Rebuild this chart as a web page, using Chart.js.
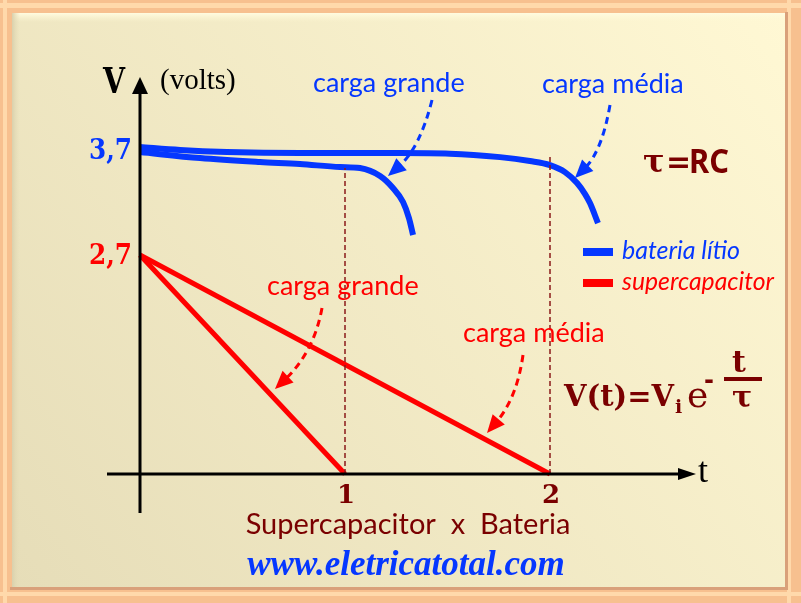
<!DOCTYPE html>
<html>
<head>
<meta charset="utf-8">
<script src="https://cdn.jsdelivr.net/npm/chart.js@4/dist/chart.umd.min.js"></script>
<style>
  html, body { margin: 0; padding: 0; background: #f7c08f; }
  canvas { display: block; }
</style>
</head>
<body>
<canvas id="chart" width="801" height="603"></canvas>
<script>
// bateria lítio - carga média (t em τ, V em volts)
const tMedia = [0, 0.195, 0.424, 0.78, 1.268, 1.512, 1.756, 1.902, 2.0, 2.073, 2.132, 2.171, 2.195, 2.234];
const vMedia = [3.734, 3.70, 3.677, 3.665, 3.665, 3.659, 3.619, 3.574, 3.528, 3.448, 3.323, 3.197, 3.094, 2.866];
// bateria lítio - carga grande
const tGrande = [0, 0.293, 0.585, 0.78, 0.976, 1.073, 1.171, 1.234, 1.283, 1.312, 1.332];
const vGrande = [3.677, 3.608, 3.563, 3.540, 3.506, 3.494, 3.403, 3.266, 3.106, 2.923, 2.729];
// supercapacitor
const tCapGrande = [0, 1];
const tCapMedia = [0, 2];
const vCap = [2.7, 0];
// linhas tracejadas em t = 1 e t = 2
const tGuides = [1, 2];
const vGuideTops = [3.494, 3.63];
// rótulos
const xTicks = [1, 2];
const yTickBattery = 3.7;
const yTickCap = 2.7;

const BLUE = '#0537ff';
const RED = '#ff0000';
const DARK = '#7a0000';

const pts = (ts, vs) => ts.map((t, i) => ({ x: t, y: vs[i] }));

//Background, axes, labels
const decor = {
    id: 'decor',
    beforeDraw(chart) {
        const ctx = chart.ctx;
        ctx.save();
        ctx.fillStyle = '#f7c08f';
        ctx.fillRect(0, 0, 801, 603);
        ctx.fillStyle = '#ffd9ab';
        ctx.fillRect(0, 3, 801, 5);
        ctx.fillRect(3, 0, 4, 603);
        ctx.fillRect(787, 0, 4, 603);
        ctx.fillRect(0, 592, 801, 4);
        ctx.fillStyle = '#d9a07a';
        ctx.fillRect(10, 587, 777, 3);
        ctx.fillRect(785, 12, 3, 578);
        const g = ctx.createLinearGradient(12, 587, 785, 13);
        g.addColorStop(0, '#e6ddb8');
        g.addColorStop(1, '#fff8d4');
        ctx.fillStyle = g;
        ctx.fillRect(12, 13, 773, 574);
        const top = ctx.createLinearGradient(0, 13, 0, 22);
        top.addColorStop(0, '#fffbe0');
        top.addColorStop(1, 'rgba(255,248,212,0)');
        ctx.fillStyle = top;
        ctx.fillRect(12, 13, 773, 9);
        const left = ctx.createLinearGradient(12, 0, 20, 0);
        left.addColorStop(0, '#d9d0ac');
        left.addColorStop(1, 'rgba(230,221,184,0)');
        ctx.fillStyle = left;
        ctx.fillRect(12, 13, 8, 574);
        ctx.restore();
    },
    afterDatasetsDraw(chart) {
        const ctx = chart.ctx;
        const { x, y, y2 } = chart.scales;
        const x0 = x.getPixelForValue(0);
        const y0 = y.getPixelForValue(0);
        ctx.save();

        // eixos
        ctx.strokeStyle = '#000';
        ctx.fillStyle = '#000';
        ctx.lineWidth = 3;
        ctx.beginPath();
        ctx.moveTo(x0, 513);
        ctx.lineTo(x0, 92);
        ctx.moveTo(107, y0);
        ctx.lineTo(680, y0);
        ctx.stroke();
        ctx.beginPath();
        ctx.moveTo(x0, 77);
        ctx.lineTo(x0 - 8, 94);
        ctx.lineTo(x0 + 8, 94);
        ctx.closePath();
        ctx.fill();
        ctx.beginPath();
        ctx.moveTo(696, y0);
        ctx.lineTo(678, y0 - 6);
        ctx.lineTo(678, y0 + 6);
        ctx.closePath();
        ctx.fill();

        const text = (s, px, py, font, color, align, maxW) => {
            ctx.font = font;
            ctx.fillStyle = color;
            ctx.textAlign = align || 'left';
            ctx.textBaseline = 'alphabetic';
            if (maxW) ctx.fillText(s, px, py, maxW); else ctx.fillText(s, px, py);
        };

        // rótulos dos eixos
        text('V', 103, 93, 'bold 35px "DejaVu Serif"', '#000', 'left', 22);
        text('(volts)', 160, 89, '29px "Liberation Serif"', '#000', 'left', 80);
        text('t', 698, 482, '36px "Liberation Serif"', '#000');
        const serifB = 'bold 28px "DejaVu Serif"';
        text(String(yTickBattery).replace('.', ','), 132, y2.getPixelForValue(yTickBattery) + 9, serifB, BLUE, 'right', 43);
        text(String(yTickCap).replace('.', ','), 132, y.getPixelForValue(yTickCap) + 9, serifB, RED, 'right', 43);
        xTicks.forEach(v => text(String(v), x.getPixelForValue(v) + 1, 503, 'bold 26px "DejaVu Serif"', DARK, 'center'));

        // anotações
        const ann = '27px Lato';
        text('carga grande', 313, 92, ann, BLUE, 'left', 157);
        text('carga média', 542, 93, ann, BLUE, 'left', 146);
        text('carga grande', 267, 295, ann, RED, 'left', 156);
        text('carga média', 463, 342, ann, RED, 'left', 146);

        const arrow = (sx, sy, cx, cy, ex, ey, color) => {
            ctx.strokeStyle = color;
            ctx.fillStyle = color;
            ctx.lineWidth = 3;
            ctx.setLineDash([7, 5]);
            const ang = Math.atan2(ey - cy, ex - cx);
            const bx = ex - 14 * Math.cos(ang);
            const by = ey - 14 * Math.sin(ang);
            ctx.beginPath();
            ctx.moveTo(sx, sy);
            ctx.quadraticCurveTo(cx, cy, bx, by);
            ctx.stroke();
            ctx.setLineDash([]);
            ctx.beginPath();
            ctx.moveTo(ex, ey);
            ctx.lineTo(ex - 18 * Math.cos(ang) + 8 * Math.sin(ang), ey - 18 * Math.sin(ang) - 8 * Math.cos(ang));
            ctx.lineTo(ex - 18 * Math.cos(ang) - 8 * Math.sin(ang), ey - 18 * Math.sin(ang) + 8 * Math.cos(ang));
            ctx.closePath();
            ctx.fill();
        };
        arrow(432, 100, 420, 148, 388, 176, BLUE);
        arrow(610, 105, 602, 151, 575, 178, BLUE);
        arrow(322, 308, 314, 352, 275, 389, RED);
        arrow(523, 355, 517, 398, 487, 433, RED);

        // legenda
        const items = chart.data.datasets.filter(d => d.legend);
        items.forEach((d, i) => {
            const ly = 252 + i * 31;
            ctx.fillStyle = d.borderColor;
            ctx.fillRect(583, ly - 4, 30, 8);
            text(d.label, 622, ly + 7, 'italic 25px Lato', d.borderColor, 'left', i ? 152 : 118);
        });

        // fórmulas
        text('τ', 643, 172, 'bold 32px "DejaVu Serif"', DARK);
        text('=', 666, 172, 'bold 30px "DejaVu Sans"', DARK);
        text('RC', 689, 173, 'bold 34px "Noto Sans"', DARK, 'left', 40);
        text('V(t)=V', 564, 406, 'bold 29px "DejaVu Serif"', DARK, 'left', 110);
        text('i', 675, 413, 'bold 19px "DejaVu Serif"', DARK);
        text('e', 687, 407, '36px "DejaVu Serif"', DARK);
        text('-', 704, 388, 'bold 24px "DejaVu Sans"', DARK);
        text('t', 739, 372, 'bold 30px "DejaVu Serif"', DARK, 'center');
        ctx.fillStyle = DARK;
        ctx.fillRect(724, 377, 38, 4);
        text('τ', 742, 407, 'bold 30px "DejaVu Serif"', DARK, 'center');

        // título
        text('Supercapacitor  x  Bateria', 408, 534, '29px Lato', DARK, 'center', 336);
        text('www.eletricatotal.com', 406, 575, 'bold italic 35px "Liberation Serif"', BLUE, 'center', 336);
        ctx.restore();
    }
};

const ctx = document.getElementById('chart').getContext('2d');
new Chart(ctx, {
    type: 'line',
    data: {
        datasets: [
            { label: 'dash1', data: [{ x: tGuides[0], y: 0 }, { x: tGuides[0], y: vGuideTops[0] }], yAxisID: 'y2',
              borderColor: '#8b1a1a', borderWidth: 1.5, borderDash: [5, 3] },
            { label: 'dash2', data: [{ x: tGuides[1], y: 0 }, { x: tGuides[1], y: vGuideTops[1] }], yAxisID: 'y2',
              borderColor: '#8b1a1a', borderWidth: 1.5, borderDash: [5, 3] },
            { label: 'bateria lítio', legend: true, data: pts(tMedia, vMedia), yAxisID: 'y2',
              borderColor: BLUE, borderWidth: 6, cubicInterpolationMode: 'monotone' },
            { label: 'carga grande', data: pts(tGrande, vGrande), yAxisID: 'y2',
              borderColor: BLUE, borderWidth: 6, cubicInterpolationMode: 'monotone' },
            { label: 'supercapacitor', legend: true, data: pts(tCapGrande, vCap), yAxisID: 'y',
              borderColor: RED, borderWidth: 5 },
            { label: 'supercap media', data: pts(tCapMedia, vCap), yAxisID: 'y',
              borderColor: RED, borderWidth: 5 }
        ]
    },
    options: {
        responsive: false,
        animation: false,
        devicePixelRatio: 1,
        layout: { padding: { left: 140, right: 107.5, top: 80, bottom: 129 } },
        elements: { point: { radius: 0 }, line: { borderCapStyle: 'butt' } },
        datasets: { line: { clip: false } },
        scales: {
            x: { type: 'linear', min: 0, max: 2.7, display: false },
            y: { type: 'linear', min: 0, max: 4.858, display: false },
            y2: { type: 'linear', min: 0, max: 4.5, display: false }
        },
        plugins: { legend: { display: false }, tooltip: { enabled: false } }
    },
    plugins: [decor]
});
</script>
</body>
</html>
